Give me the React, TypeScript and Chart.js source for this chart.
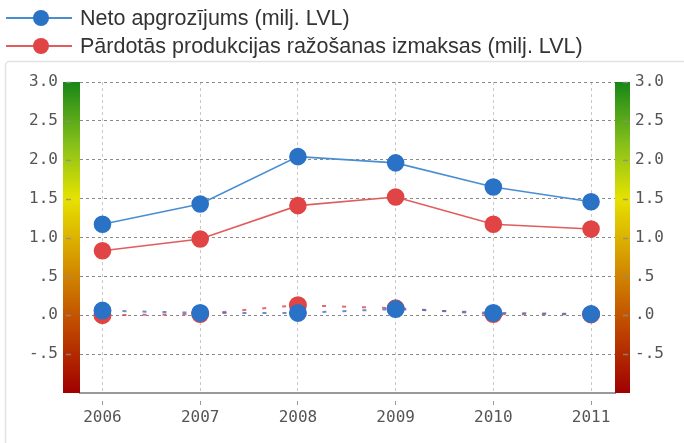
import React, { useEffect, useRef } from "react";
import { Chart, registerables } from "chart.js";

Chart.register(...registerables);

const years = [2006, 2007, 2008, 2009, 2010, 2011];
const netoApgrozijums = [1.17, 1.43, 2.04, 1.96, 1.65, 1.46];
const izmaksas = [0.83, 0.98, 1.41, 1.52, 1.17, 1.11];
const netoApgrozijumsDashed = [0.06, 0.03, 0.03, 0.08, 0.03, 0.016];
const izmaksasDashed = [0.0, 0.015, 0.13, 0.09, 0.015, 0.01];
const legendLabels = [
  "Neto apgrozījums (milj. LVL)",
  "Pārdotās produkcijas ražošanas izmaksas (milj. LVL)",
];

const BLUE_LINE = "#4a8ed2";
const BLUE_POINT = "#2a72c6";
const RED_LINE = "#e25c5c";
const RED_POINT = "#e14444";

const W = 684;
const H = 443;

function fmt(v: number): string {
  if (Math.abs(v + 1) < 1e-9) return "";
  let s = v.toFixed(1);
  if (s.startsWith("0.")) s = s.slice(1);
  else if (s.startsWith("-0.")) s = "-" + s.slice(2);
  return s;
}

const pts = (arr: number[]) => years.map((x, i) => ({ x, y: arr[i] }));

const decorPlugin = {
  id: "decor",
  beforeDraw(chart: any) {
    const ctx = chart.ctx;
    ctx.save();
    ctx.strokeStyle = "#e2e2e2";
    ctx.lineWidth = 1.5;
    ctx.beginPath();
    ctx.moveTo(5.5, H);
    ctx.lineTo(5.5, 66);
    ctx.arcTo(5.5, 61.5, 10, 61.5, 4);
    ctx.lineTo(W, 61.5);
    ctx.stroke();
    ctx.restore();
  },
  afterDraw(chart: any) {
    const ctx = chart.ctx;
    const { top, bottom, left, right } = chart.chartArea;
    const y = chart.scales.y;
    const makeGrad = () => {
      const g = ctx.createLinearGradient(0, top, 0, bottom);
      g.addColorStop(0, "#178617");
      g.addColorStop(0.2, "#86c01a");
      g.addColorStop(0.375, "#e6e200");
      g.addColorStop(0.55, "#d8a000");
      g.addColorStop(0.78, "#c04a00");
      g.addColorStop(1, "#a00000");
      return g;
    };
    ctx.save();
    ctx.fillStyle = makeGrad();
    ctx.fillRect(left - 17, top, 17, bottom - top);
    ctx.fillRect(right, top, 15, bottom - top);
    ctx.strokeStyle = "rgba(140,140,140,0.8)";
    ctx.lineWidth = 1.5;
    y.ticks.forEach((t: any) => {
      if (Math.abs(t.value + 1) < 1e-9) return;
      const py = Math.round(y.getPixelForValue(t.value)) + 0.5;
      ctx.beginPath();
      ctx.moveTo(left - 14, py);
      ctx.lineTo(left - 9, py);
      ctx.moveTo(right + 8, py);
      ctx.lineTo(right + 13, py);
      ctx.stroke();
    });
    ctx.restore();

    // legend
    const rows = [
      { label: legendLabels[0], line: BLUE_LINE, point: BLUE_POINT, cy: 18 },
      { label: legendLabels[1], line: RED_LINE, point: RED_POINT, cy: 46 },
    ];
    ctx.save();
    rows.forEach((r) => {
      ctx.strokeStyle = r.line;
      ctx.lineWidth = 2;
      ctx.beginPath();
      ctx.moveTo(6, r.cy);
      ctx.lineTo(72, r.cy);
      ctx.stroke();
      ctx.fillStyle = r.point;
      ctx.beginPath();
      ctx.arc(41, r.cy, 8, 0, Math.PI * 2);
      ctx.fill();
      ctx.fillStyle = "#333";
      ctx.font = '21.5px "Liberation Sans", Arial, sans-serif';
      ctx.textBaseline = "middle";
      ctx.textAlign = "left";
      ctx.fillText(r.label, 80, r.cy + 1);
    });
    ctx.restore();
  },
};

export default function App() {
  const ref = useRef<HTMLCanvasElement | null>(null);
  useEffect(() => {
    if (!ref.current) return;
    const tickFont = { family: '"DejaVu Sans Mono", monospace', size: 16 };
    const chart = new Chart(ref.current, {
      type: "line",
      data: {
        datasets: [
          {
            label: legendLabels[0],
            data: pts(netoApgrozijums),
            borderColor: BLUE_LINE,
            backgroundColor: BLUE_POINT,
            pointBackgroundColor: BLUE_POINT,
            pointBorderColor: BLUE_POINT,
            borderWidth: 1.6,
            pointRadius: 8,
            tension: 0,
          },
          {
            label: legendLabels[1],
            data: pts(izmaksas),
            borderColor: RED_LINE,
            backgroundColor: RED_POINT,
            pointBackgroundColor: RED_POINT,
            pointBorderColor: RED_POINT,
            borderWidth: 1.6,
            pointRadius: 8,
            tension: 0,
          },
          {
            label: "dashed-blue",
            data: pts(netoApgrozijumsDashed),
            borderColor: "rgba(70,110,200,0.8)",
            pointBackgroundColor: BLUE_POINT,
            pointBorderColor: BLUE_POINT,
            borderWidth: 2,
            borderDash: [4, 16],
            pointRadius: 8,
            tension: 0,
          },
          {
            label: "dashed-red",
            data: pts(izmaksasDashed),
            borderColor: "rgba(220,70,70,0.8)",
            pointBackgroundColor: RED_POINT,
            pointBorderColor: RED_POINT,
            borderWidth: 2,
            borderDash: [4, 16],
            pointRadius: 8,
            tension: 0,
          },
        ],
      },
      options: {
        animation: false,
        responsive: false,
        maintainAspectRatio: false,
        layout: { padding: { top: 82, left: 0, right: 0, bottom: 0 } },
        plugins: { legend: { display: false }, tooltip: { enabled: false } },
        scales: {
          x: {
            type: "linear",
            min: 2005.77,
            max: 2011.245,
            afterFit: (s: any) => {
              s.height = 50;
            },
            afterBuildTicks: (s: any) => {
              s.ticks = years.map((v) => ({ value: v }));
            },
            ticks: {
              callback: (v: any) => String(v),
              color: "#555",
              font: tickFont,
              padding: 3,
              maxRotation: 0,
            },
            grid: {
              color: "#c8c8c8",
              lineWidth: 1,
              tickLength: 12,
              tickColor: "#999",
              tickBorderDash: [0, 7, 4, 30],
            },
            border: { display: true, color: "#999", width: 2, dash: [3, 3] },
          },
          y: {
            type: "linear",
            position: "left",
            min: -1,
            max: 3,
            afterFit: (s: any) => {
              s.width = 80;
            },
            ticks: {
              stepSize: 0.5,
              callback: (v: any) => fmt(Number(v)),
              color: "#555",
              font: tickFont,
              padding: 5,
            },
            grid: {
              color: (c: any) =>
                c.tick && Math.abs(c.tick.value + 1) < 1e-9 ? "transparent" : "#8a8a8a",
              tickLength: 17,
              tickColor: "transparent",
            },
            border: { display: false, dash: [3, 3] },
          },
          y2: {
            type: "linear",
            position: "right",
            min: -1,
            max: 3,
            afterFit: (s: any) => {
              s.width = W - 615;
            },
            ticks: {
              stepSize: 0.5,
              callback: (v: any) => fmt(Number(v)),
              color: "#555",
              font: tickFont,
              padding: 5,
            },
            grid: {
              drawOnChartArea: false,
              tickLength: 15,
              tickColor: "transparent",
            },
            border: { display: false },
          },
        },
      },
      plugins: [decorPlugin],
    } as any);
    return () => chart.destroy();
  }, []);

  return (
    <div style={{ position: "fixed", left: 0, top: 0, width: W, height: H, background: "#fff" }}>
      <canvas ref={ref} width={W} height={H} style={{ display: "block", width: W, height: H }} />
    </div>
  );
}
